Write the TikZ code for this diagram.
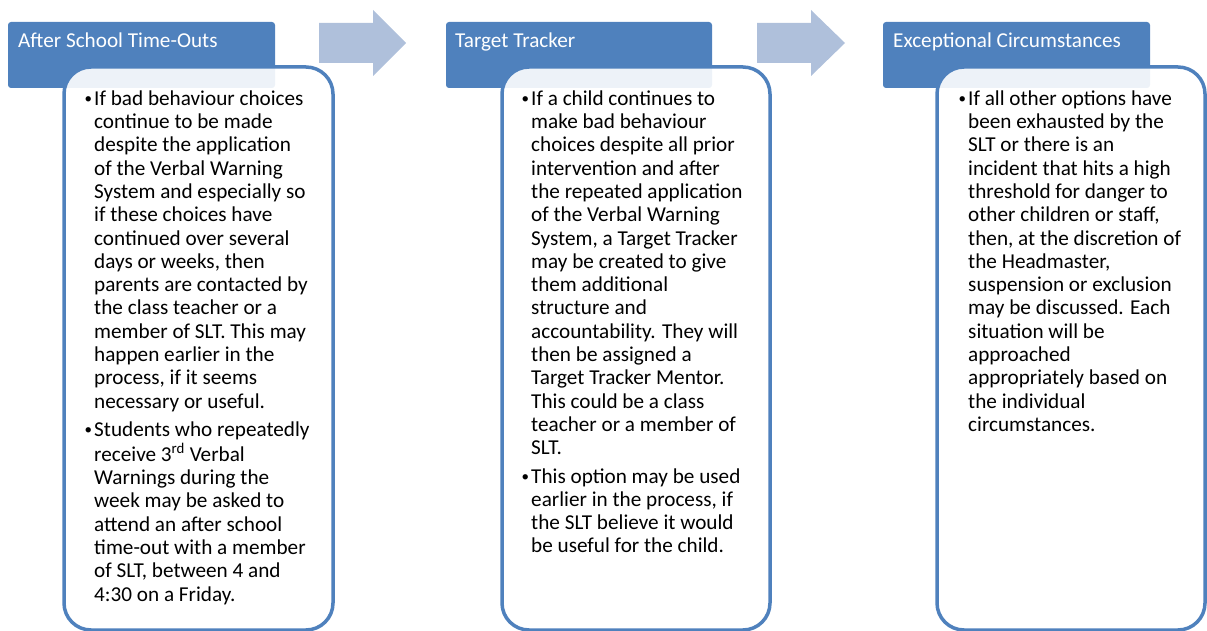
\documentclass[tikz,border=0pt]{standalone}
\usepackage{fontspec}
\setmainfont{Carlito}
\definecolor{hdrblue}{HTML}{4F81BD}
\definecolor{arrowblue}{HTML}{AFC0DB}
\tikzset{
  header/.style={fill=hdrblue, rounded corners=3pt},
  card/.style={draw=hdrblue, line width=3.5pt, fill=white, fill opacity=0.9, rounded corners=27pt},
  flowarrow/.style={fill=arrowblue},
  htext/.style={anchor=base west, inner sep=0pt, text=white, font=\fontsize{21.2}{23.3}\selectfont},
  btext/.style={anchor=north west, inner sep=0pt, text=black, font=\fontsize{21.2}{23.3}\selectfont},
}
\newcommand{\bul}{\makebox[9.5pt][l]{\raisebox{1.5pt}{\fontsize{15}{15}\selectfont •}}}
\begin{document}
\begin{tikzpicture}[x=1pt,y=-1pt]
\useasboundingbox (0,0) rectangle (1207,631);
\clip (0,0) rectangle (1207,631);
% arrows
\fill[flowarrow] (319,23) -- (373,23) -- (373,10) -- (406,43) -- (373,76) -- (373,63) -- (319,63) -- cycle;
\fill[flowarrow] (757,23) -- (811,23) -- (811,10) -- (845,43) -- (811,76) -- (811,63) -- (757,63) -- cycle;
% headers
\path[header] (8,22) rectangle (275,88);
\path[header] (446,22) rectangle (712,88);
\path[header] (883,22) rectangle (1150,88);
% cards
\path[card] (64,67) rectangle (333,630);
\path[card] (502,67) rectangle (770,630);
\path[card] (937,67) rectangle (1205,630);
% header texts
\node[htext] (h1) at (18,48) {After School Time-Outs};
\node[htext] (h2) at (455,48) {Target Tracker};
\node[htext] (h3) at (893,48) {Exceptional Circumstances};
% body texts
\node[btext] (b1) at (84.5,88.7) {\begin{tabular}{@{}l@{}l@{}}
\bul & If bad behaviour choices\\
 & continue to be made\\
 & despite the application\\
 & of the Verbal Warning\\
 & System and especially so\\
 & if these choices have\\
 & continued over several\\
 & days or weeks, then\\
 & parents are contacted by\\
 & the class teacher or a\\
 & member of SLT. This may\\
 & happen earlier in the\\
 & process, if it seems\\
 & necessary or useful.\\[5pt]
\bul & Students who repeatedly\\
 & receive 3\textsuperscript{rd} Verbal\\
 & Warnings during the\\
 & week may be asked to\\
 & attend an after school\\
 & time-out with a member\\
 & of SLT, between 4 and\\
 & 4:30 on a Friday.
\end{tabular}};
\node[btext] (b2) at (521.5,88.7) {\begin{tabular}{@{}l@{}l@{}}
\bul & If a child continues to\\
 & make bad behaviour\\
 & choices despite all prior\\
 & intervention and after\\
 & the repeated application\\
 & of the Verbal Warning\\
 & System, a Target Tracker\\
 & may be created to give\\
 & them additional\\
 & structure and\\
 & accountability. They will\\
 & then be assigned a\\
 & Target Tracker Mentor.\\
 & This could be a class\\
 & teacher or a member of\\
 & SLT.\\[5pt]
\bul & This option may be used\\
 & earlier in the process, if\\
 & the SLT believe it would\\
 & be useful for the child.
\end{tabular}};
\node[btext] (b3) at (958.5,88.7) {\begin{tabular}{@{}l@{}l@{}}
\bul & If all other options have\\
 & been exhausted by the\\
 & SLT or there is an\\
 & incident that hits a high\\
 & threshold for danger to\\
 & other children or staff,\\
 & then, at the discretion of\\
 & the Headmaster,\\
 & suspension or exclusion\\
 & may be discussed. Each\\
 & situation will be\\
 & approached\\
 & appropriately based on\\
 & the individual\\
 & circumstances.
\end{tabular}};
\end{tikzpicture}
\end{document}
